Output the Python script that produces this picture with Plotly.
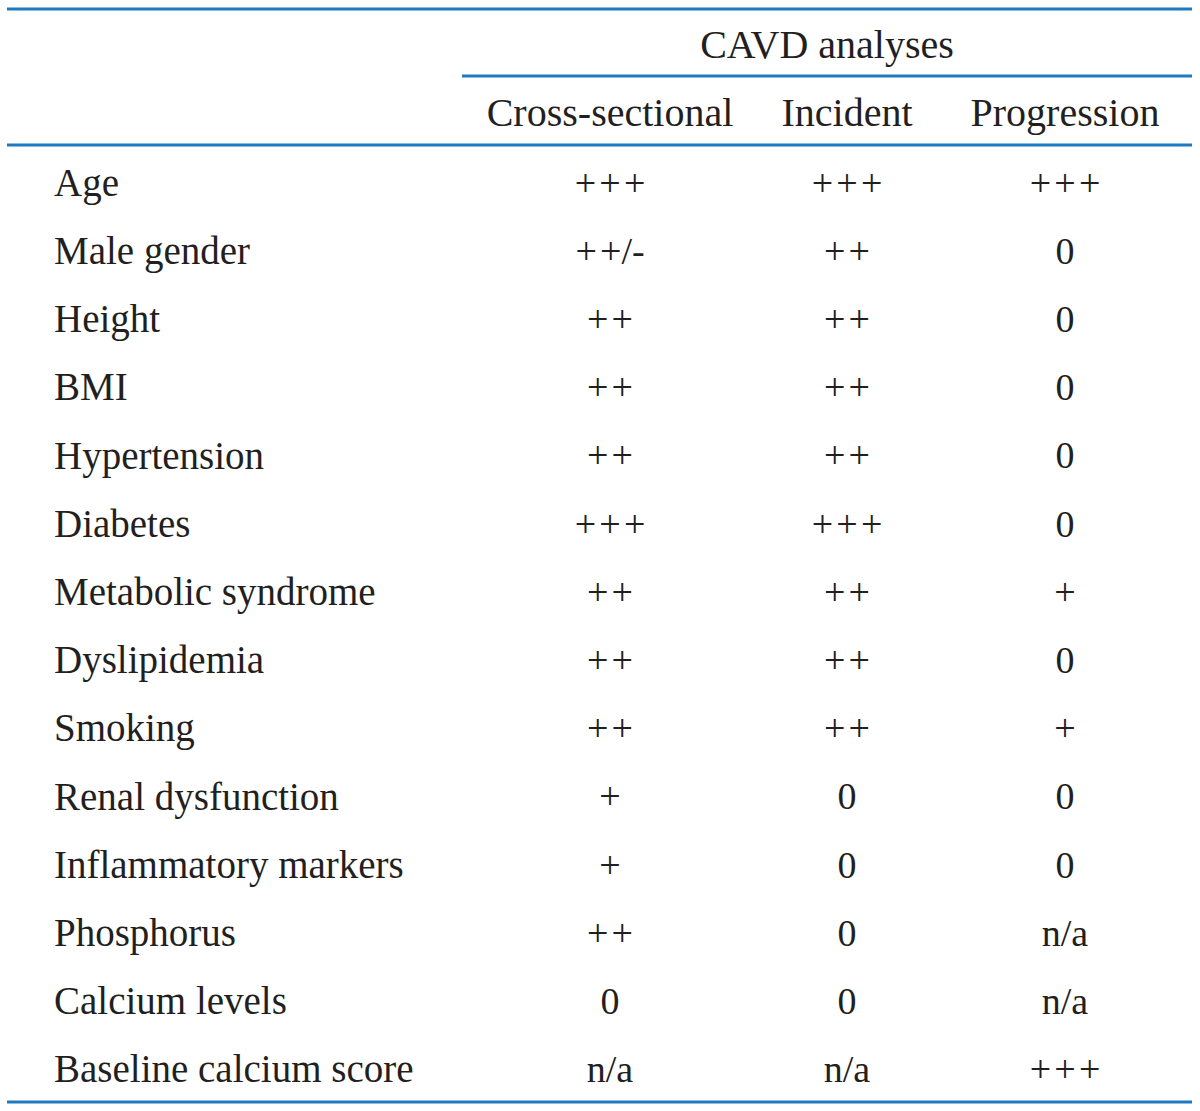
import plotly.graph_objects as go

# ---- data ----
factors = ["Age", "Male gender", "Height", "BMI", "Hypertension", "Diabetes",
           "Metabolic syndrome", "Dyslipidemia", "Smoking", "Renal dysfunction",
           "Inflammatory markers", "Phosphorus", "Calcium levels",
           "Baseline calcium score"]
cross_sectional = ["+++", "++/-", "++", "++", "++", "+++", "++", "++", "++",
                   "+", "+", "++", "0", "n/a"]
incident = ["+++", "++", "++", "++", "++", "+++", "++", "++", "++",
            "0", "0", "0", "0", "n/a"]
progression = ["+++", "0", "0", "0", "0", "0", "+", "0", "+",
               "0", "0", "n/a", "n/a", "+++"]
group_header = "CAVD analyses"
column_headers = ["Cross-sectional", "Incident", "Progression"]

# ---- layout constants ----
W, H = 1200, 1111
row0, pitch = 186, 68.2
col_x = [610, 847, 1065]
label_x = 54
FONT = "Liberation Serif"
TXT = "#231f20"
RULE = "#1f7bc1"


def yv(px):
    return (px - row0) / pitch


def show(v):
    # spread the plus signs slightly, as typeset in the source table
    return v.replace("+", "+\u200a").rstrip("\u200a").replace("\u200a/", "/")


fig = go.Figure()
rows = list(range(len(factors)))

fig.add_trace(go.Scatter(x=[label_x] * len(factors), y=rows, mode="text",
                         text=factors, textposition="middle right",
                         textfont=dict(family=FONT, size=39, color=TXT),
                         hoverinfo="skip", showlegend=False))
for cx, vals in zip(col_x, [cross_sectional, incident, progression]):
    fig.add_trace(go.Scatter(x=[cx] * len(vals), y=rows, mode="text",
                             text=[show(v) for v in vals],
                             textposition="middle center",
                             textfont=dict(family=FONT, size=38, color=TXT),
                             hoverinfo="skip", showlegend=False))

# headers
fig.add_trace(go.Scatter(x=[827], y=[yv(48)], mode="text", text=[group_header],
                         textposition="middle center",
                         textfont=dict(family=FONT, size=40, color=TXT),
                         hoverinfo="skip", showlegend=False))
fig.add_trace(go.Scatter(x=col_x, y=[yv(116)] * 3, mode="text", text=column_headers,
                         textposition="middle center",
                         textfont=dict(family=FONT, size=40, color=TXT),
                         hoverinfo="skip", showlegend=False))

# rules
for x0, x1, py in [(7, 1192, 9), (462, 1192, 76), (7, 1192, 145), (7, 1192, 1102)]:
    fig.add_shape(type="line", x0=x0, x1=x1, y0=yv(py), y1=yv(py),
                  xref="x", yref="y", line=dict(color=RULE, width=3))

fig.update_xaxes(range=[0, W], visible=False, fixedrange=True)
fig.update_yaxes(range=[yv(H), yv(0)], visible=False, fixedrange=True)
fig.update_layout(width=W, height=H, margin=dict(l=0, r=0, t=0, b=0),
                  paper_bgcolor="white", plot_bgcolor="white")

fig.write_html("out.html", config={"displayModeBar": False},
               post_script="document.body.style.margin='0';document.body.style.overflow='hidden';")
